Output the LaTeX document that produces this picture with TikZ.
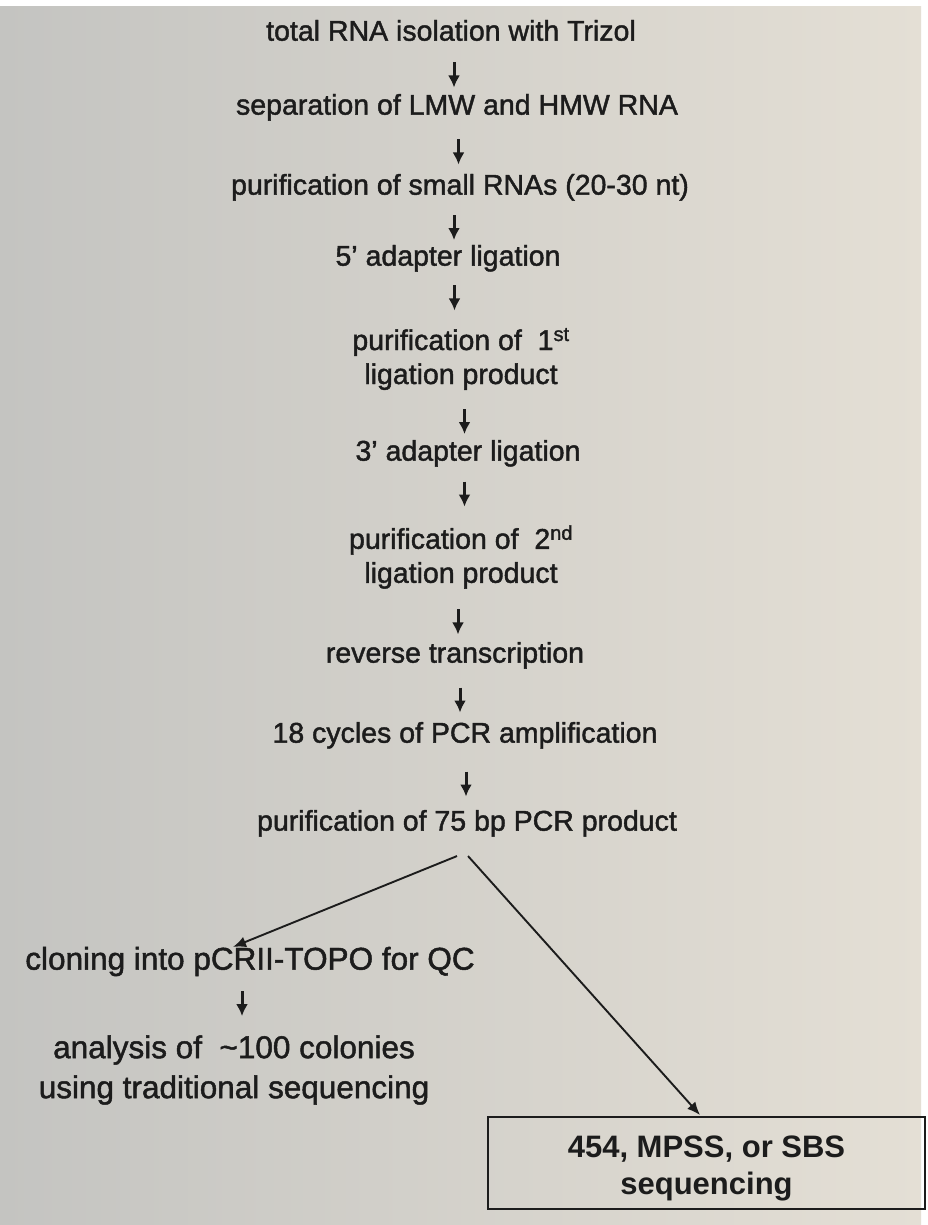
\documentclass[tikz,border=0pt]{standalone}
\usepackage{fontspec}
\setmainfont{Liberation Sans}
\newfontfamily\stepfont{Liberation Sans}[Ligatures=TeX, FakeBold=1.5]
\usepackage{tikz}
\usetikzlibrary{arrows.meta,positioning,calc}
\definecolor{ink}{RGB}{28,28,28}
\definecolor{paperL}{RGB}{196,196,193}
\definecolor{paperR}{RGB}{228,223,213}
\tikzset{
  stepnode/.style={inner sep=0pt, text=ink, text height=0.75em, text depth=0.22em,
    font=\stepfont\fontsize{28.5}{34}\selectfont},
  steptwo/.style={inner sep=0pt, text=ink, align=center,
    font=\stepfont\fontsize{28.5}{34}\selectfont},
  qcnode/.style={inner sep=0pt, text=ink, text height=0.75em, text depth=0.22em,
    font=\stepfont\fontsize{31.5}{40}\selectfont},
  qctwo/.style={inner sep=0pt, text=ink, align=center,
    font=\stepfont\fontsize{31.5}{40}\selectfont},
  seqbox/.style={draw=ink, line width=2pt, minimum width=437pt, minimum height=92pt},
  seqtext/.style={inner sep=0pt, text=ink, align=center,
    font=\bfseries\fontsize{31}{37}\selectfont},
  down/.style={draw=ink, line width=3pt, -{Latex[length=12pt,width=12pt]},
    to path={($(\tikztostart.south)!.5!(\tikztotarget.north)$) +(0,-12.5) -- +(0,12.5)}},
  branch/.style={draw=ink, line width=1.9pt, -{Latex[length=13pt,width=11pt]}}
}
\begin{document}
\begin{tikzpicture}[x=1pt,y=-1pt]
  \fill[white] (0,0) rectangle (927,1225);
  \shade[left color=paperL, right color=paperR] (0,7) rectangle (921,1225);
  \useasboundingbox (0,0) rectangle (927,1225);

  \node[stepnode] (total) at (451,38) {total RNA isolation with Trizol};
  \node[stepnode] (sep) at (457,112) {separation of LMW and HMW RNA};
  \node[stepnode] (small) at (460,192) {purification of small RNAs (20-30 nt)};
  \node[stepnode] (five) at (448,263) {5' adapter ligation};
  \node[steptwo] (first) at (461,359) {purification of\ \ 1\textsuperscript{st}\\ligation product};
  \node[stepnode] (three) at (468,458) {3' adapter ligation};
  \node[steptwo] (second) at (461,557) {purification of\ \ 2\textsuperscript{nd}\\ligation product};
  \node[stepnode] (rt) at (455,660) {reverse transcription};
  \node[stepnode] (cyc) at (465,740) {18 cycles of PCR amplification};
  \node[stepnode] (prod) at (467,828) {purification of 75 bp PCR product};

  \node[qcnode] (clone) at (250,967) {cloning into pCRII-TOPO for QC};
  \node[qctwo] (anal) at (234,1070) {analysis of\ \ \textasciitilde100 colonies\\using traditional sequencing};
  \node[seqbox] (seq) at (706.5,1163) {};
  \node[seqtext] (seqlbl) at ([yshift=-5pt]seq.center) {454, MPSS, or SBS\\sequencing};

  \foreach \a/\b in {total/sep, sep/small, small/five, five/first, first/three,
                     three/second, second/rt, rt/cyc, cyc/prod, clone/anal}
    \draw[down] (\a) to (\b);

  \draw[branch] ([xshift=-10pt,yshift=-23pt]prod.south) -- ([xshift=-17pt,yshift=15pt]clone.north);
  \draw[branch] ([xshift=1pt,yshift=-23pt]prod.south) -- ([xshift=-6.5pt,yshift=1pt]seq.north);
\end{tikzpicture}
\end{document}
